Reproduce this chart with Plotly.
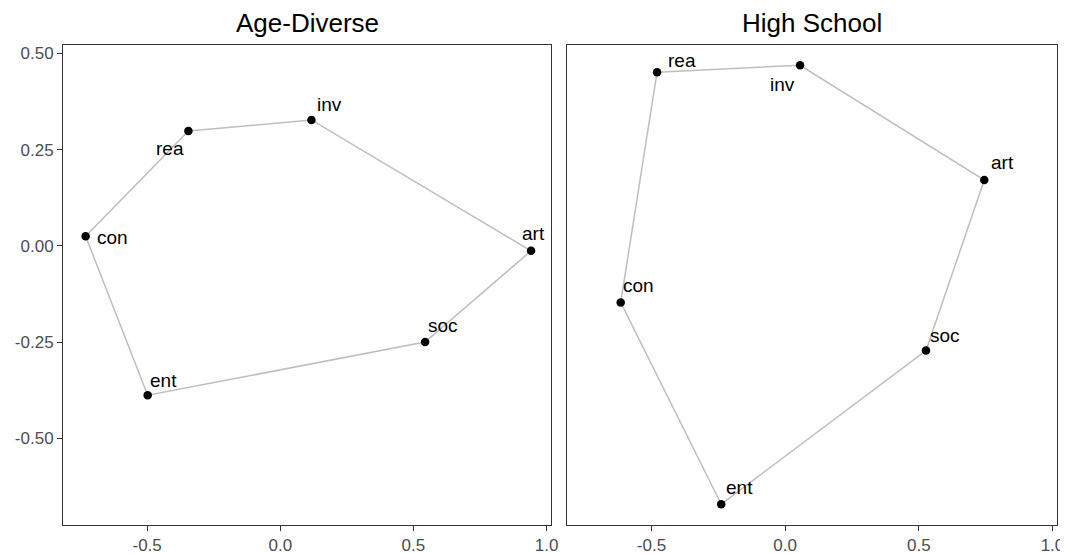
import plotly.graph_objects as go

# ---- data ----
codes = ["rea", "inv", "art", "soc", "ent", "con"]
age_x = [-0.345, 0.117, 0.942, 0.544, -0.498, -0.731]
age_y = [0.298, 0.327, -0.013, -0.250, -0.388, 0.025]
hs_x = [-0.479, 0.056, 0.745, 0.527, -0.239, -0.615]
hs_y = [0.451, 0.469, 0.171, -0.272, -0.671, -0.147]
panel_titles = ["Age-Diverse", "High School"]
x_tickvals = [-0.5, 0.0, 0.5, 1.0]
x_ticktext = ["-0.5", "0.0", "0.5", "1.0"]
y_tickvals = [-0.5, -0.25, 0.0, 0.25, 0.5]
y_ticktext = ["-0.50", "-0.25", "0.00", "0.25", "0.50"]

# ---- label placement (screen px offsets: dx right, dy down) ----
age_off = {"rea": (-18, 19), "inv": (18, -14), "art": (2, -16),
           "soc": (18, -15), "ent": (16, -13), "con": (27, 3)}
hs_off = {"rea": (25, -10), "inv": (-18, 21), "art": (18, -16),
          "soc": (19, -14), "ent": (18, -15), "con": (18, -15)}

fig = go.Figure()
panels = [(age_x, age_y, age_off, "x", "y"), (hs_x, hs_y, hs_off, "x2", "y2")]
for xs, ys, off, xa, ya in panels:
    fig.add_trace(go.Scatter(x=xs + xs[:1], y=ys + ys[:1], mode="lines",
                             line=dict(color="#BEBEBE", width=1.5),
                             xaxis=xa, yaxis=ya, hoverinfo="skip", showlegend=False))
    fig.add_trace(go.Scatter(x=xs, y=ys, mode="markers",
                             marker=dict(color="black", size=8.5),
                             xaxis=xa, yaxis=ya, showlegend=False))
    for c, xv, yv in zip(codes, xs, ys):
        dx, dy = off[c]
        fig.add_annotation(x=xv, y=yv, xref=xa, yref=ya, text=c, showarrow=False,
                           xanchor="center", yanchor="middle",
                           xshift=dx, yshift=-dy + 1.5,
                           font=dict(size=19, color="black"))

axis_common = dict(showgrid=False, zeroline=False, showline=True, mirror=True,
                   linecolor="#333333", linewidth=1, ticks="outside", ticklen=5,
                   tickcolor="#333333", tickfont=dict(size=17, color="#4D4D4D"),
                   automargin=False)
xr = [-0.816, 1.017]
yr = [-0.725, 0.5216]
dom1 = [0.0, 0.491]
dom2 = [0.507, 1.0]
fig.update_layout(
    width=1060, height=546,
    margin=dict(l=55, r=11, t=37, b=29),
    paper_bgcolor="white", plot_bgcolor="white",
    font=dict(family="Liberation Sans, Arial, sans-serif"),
    xaxis=dict(domain=dom1, range=xr, tickvals=x_tickvals, ticktext=x_ticktext, anchor="y", **axis_common),
    yaxis=dict(domain=[0, 1], range=yr, tickvals=y_tickvals, ticktext=y_ticktext, anchor="x", **axis_common),
    xaxis2=dict(domain=dom2, range=xr, tickvals=x_tickvals, ticktext=x_ticktext, anchor="y2", **axis_common),
    yaxis2=dict(domain=[0, 1], range=yr, tickvals=y_tickvals, showticklabels=False, anchor="x2",
                **{k: v for k, v in axis_common.items() if k not in ("ticks",)}, ticks=""),
)
for title, dom in zip(panel_titles, [dom1, dom2]):
    fig.add_annotation(x=(dom[0] + dom[1]) / 2, y=1, xref="paper", yref="paper",
                       text=title, showarrow=False, xanchor="center", yanchor="bottom",
                       yshift=5, font=dict(size=26, color="black"))

fig.write_html("out.html")
